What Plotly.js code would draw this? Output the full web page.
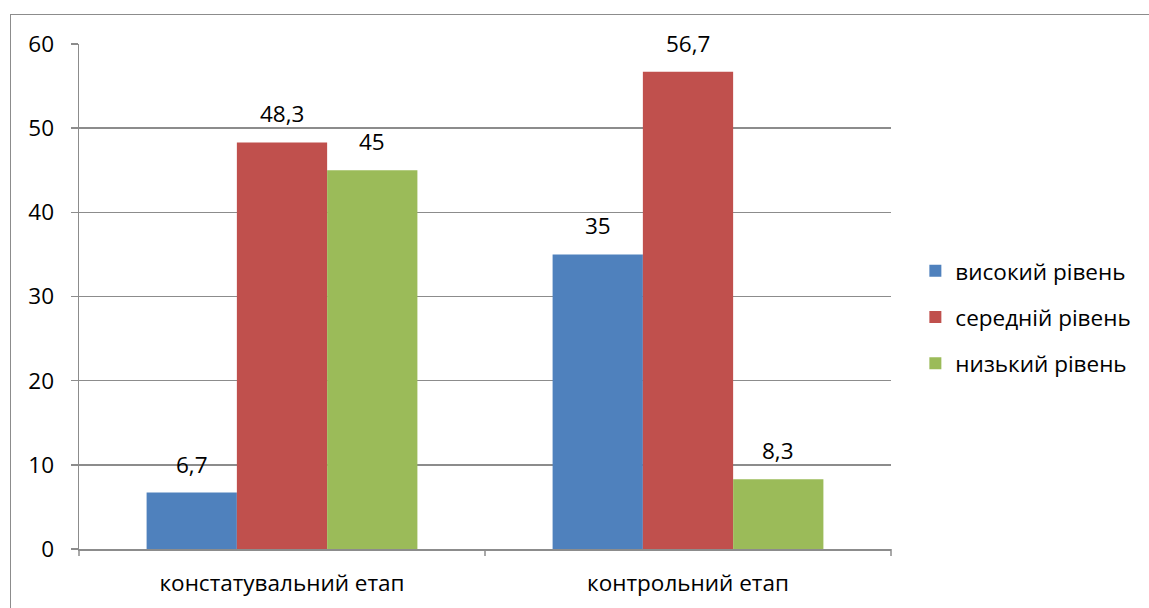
<!DOCTYPE html>
<html><head><meta charset="utf-8">
<script src="https://cdn.plot.ly/plotly-3.0.1.min.js"></script>
<style>
html,body{margin:0;padding:0;background:#fff;}
#wrap{position:relative;width:1149px;height:608px;overflow:hidden;}
#frame{position:absolute;left:10px;top:14px;width:1160px;height:620px;border:1.5px solid #8c8c8c;box-sizing:border-box;pointer-events:none;}
#chart{position:absolute;left:0;top:0;width:1149px;height:608px;}
</style></head>
<body>
<div id="wrap"><div id="chart"></div><div id="frame"></div></div>
<script>
const categories = ["констатувальний етап", "контрольний етап"];
const seriesNames = ["високий рівень", "середній рівень", "низький рівень"];
const highLevel = [6.7, 35];
const midLevel = [48.3, 56.7];
const lowLevel = [45, 8.3];
const valueLabels = [["6,7", "35"], ["48,3", "56,7"], ["45", "8,3"]];
const colors = ["#4F81BD", "#C0504D", "#9BBB59"];
const yTicks = [0, 10, 20, 30, 40, 50, 60];

const FONT = "'Open Sans', sans-serif";
const FS = 22.5;
const W = 1149, H = 608;
const M = {l: 79, r: 258, t: 44, b: 59, pad: 0};
const BARGAP = 0.333;
const seriesValues = [highLevel, midLevel, lowLevel];

const traces = seriesValues.map((vals, i) => ({
  type: "bar",
  name: seriesNames[i],
  legendgroup: "g" + i,
  x: categories,
  y: vals,
  marker: {color: colors[i], line: {width: 0}},
  hoverinfo: "none"
}));

// value labels placed over each bar through the axis scales
const plotW = W - M.l - M.r;
const barW = plotW / categories.length * (1 - BARGAP) / seriesValues.length;
const annotations = [];
seriesValues.forEach((vals, i) => {
  vals.forEach((v, j) => {
    annotations.push({
      xref: "x", yref: "y", x: categories[j], y: v,
      xshift: (i - (seriesValues.length - 1) / 2) * barW,
      yshift: 11,
      yanchor: "bottom", xanchor: "center",
      text: valueLabels[i][j], showarrow: false,
      font: {family: FONT, size: FS, color: "#000"}
    });
  });
});

const layout = {
  width: W, height: H,
  margin: M,
  paper_bgcolor: "rgba(0,0,0,0)",
  plot_bgcolor: "#fff",
  barmode: "group",
  bargap: BARGAP,
  bargroupgap: 0,
  font: {family: FONT, size: FS, color: "#000"},
  showlegend: true,
  legend: {
    x: 1.03, y: 0.459, xanchor: "left", yanchor: "middle",
    font: {family: FONT, size: FS, color: "#000"},
    itemwidth: 30, tracegroupgap: 14, traceorder: "grouped"
  },
  xaxis: {
    type: "category",
    showgrid: false,
    showline: true, linecolor: "#8c8c8c", linewidth: 1.5,
    ticks: "", ticklen: 0,
    ticklabelstandoff: 13,
    tickfont: {family: FONT, size: FS, color: "#000"},
    fixedrange: true
  },
  yaxis: {
    range: [0, 60],
    tickvals: yTicks,
    ticktext: yTicks.map(String),
    showgrid: true, gridcolor: "#8c8c8c", gridwidth: 1.5,
    showline: true, linecolor: "#8c8c8c", linewidth: 1.5,
    ticks: "outside", ticklen: 7, tickcolor: "#8c8c8c", tickwidth: 1.5,
    ticklabelstandoff: 12,
    tickfont: {family: FONT, size: FS, color: "#000"},
    zeroline: false,
    fixedrange: true
  },
  annotations: annotations,
  shapes: [0, 0.5, 1].map(p => ({
    type: "line", xref: "paper", yref: "paper",
    x0: p, x1: p, y0: 0, y1: -0.014,
    line: {color: "#8c8c8c", width: 1.5}
  }))
};
Plotly.newPlot("chart", traces, layout, {displayModeBar: false, staticPlot: true});
</script>
</body></html>
